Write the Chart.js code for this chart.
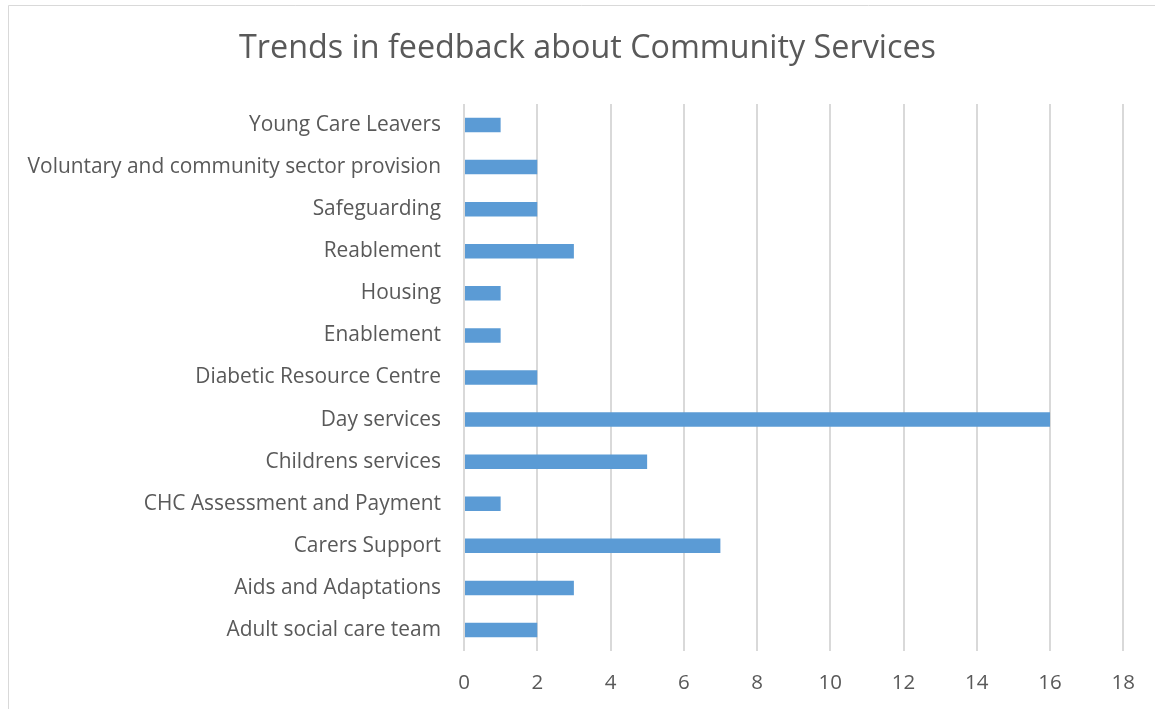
<!DOCTYPE html>
<html>
<head>
<meta charset="utf-8">
<style>
  html, body { margin: 0; padding: 0; background: #fff; }
  #wrap { width: 1155px; height: 709px; position: relative; }
</style>
<script src="https://cdn.jsdelivr.net/npm/chart.js@4.4.0/dist/chart.umd.min.js"></script>
</head>
<body>
<div id="wrap"><canvas id="c" width="1155" height="709"></canvas></div>
<script>
const categories = [
  "Young Care Leavers",
  "Voluntary and community sector provision",
  "Safeguarding",
  "Reablement",
  "Housing",
  "Enablement",
  "Diabetic Resource Centre",
  "Day services",
  "Childrens services",
  "CHC Assessment and Payment",
  "Carers Support",
  "Aids and Adaptations",
  "Adult social care team"
];
const feedbackCounts = [1, 2, 2, 3, 1, 1, 2, 16, 5, 1, 7, 3, 2];
const xTickMin = 0;
const xTickMax = 18;
const xTickStep = 2;
const chartTitle = "Trends in feedback about Community Services";

const FONT = "'Open Sans', 'Noto Sans', sans-serif";
const TEXT = "#595959";

const frameAndTitlePlugin = {
  id: 'frameAndTitle',
  beforeDraw(chart) {
    const ctx = chart.ctx;
    ctx.save();
    ctx.fillStyle = '#fff';
    ctx.fillRect(0, 0, chart.width, chart.height);
    ctx.strokeStyle = '#D9D9D9';
    ctx.lineWidth = 1;
    ctx.beginPath();
    ctx.moveTo(8.5, chart.height);
    ctx.lineTo(8.5, 5.5);
    ctx.lineTo(chart.width, 5.5);
    ctx.stroke();
    ctx.fillStyle = TEXT;
    ctx.font = "32.3px " + FONT;
    ctx.textAlign = 'center';
    ctx.textBaseline = 'middle';
    ctx.fillText(chartTitle, (8 + chart.width + 12) / 2, 49);
    ctx.restore();
  }
};

new Chart(document.getElementById('c'), {
  type: 'bar',
  data: {
    labels: categories,
    datasets: [{
      data: feedbackCounts,
      backgroundColor: '#5B9BD5',
      borderWidth: 0,
      categoryPercentage: 1.0,
      barPercentage: 0.345
    }]
  },
  options: {
    indexAxis: 'y',
    responsive: false,
    animation: false,
    layout: { padding: { left: 0, right: 31, top: 104, bottom: 0 } },
    plugins: {
      legend: { display: false },
      tooltip: { enabled: false },
      title: { display: false }
    },
    scales: {
      x: {
        min: xTickMin,
        max: xTickMax,
        ticks: {
          stepSize: xTickStep,
          color: TEXT,
          font: { family: FONT, size: 20.5 },
          padding: 20
        },
        grid: { color: '#D9D9D9', lineWidth: 2, drawTicks: false },
        border: { display: false },
        afterFit(scale) { scale.height = 58; }
      },
      y: {
        ticks: {
          color: TEXT,
          font: { family: FONT, size: 20.9 },
          padding: 23
        },
        grid: { display: false, drawTicks: false },
        border: { display: false },
        afterFit(scale) { scale.width = 464; }
      }
    }
  },
  plugins: [frameAndTitlePlugin]
});
</script>
</body>
</html>
